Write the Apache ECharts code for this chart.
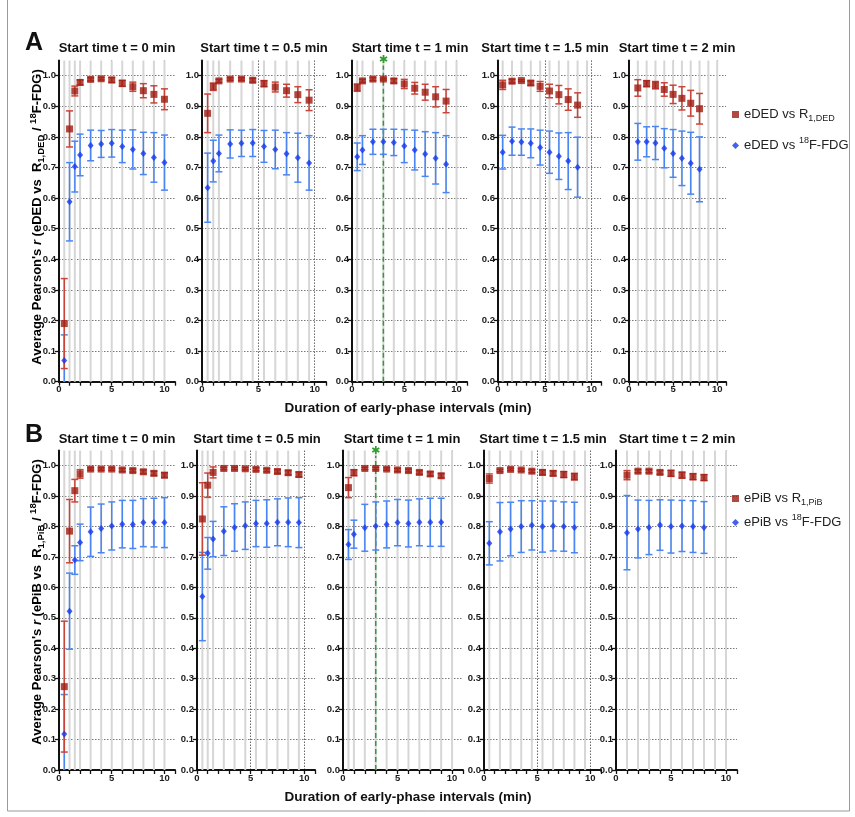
<!DOCTYPE html>
<html>
<head>
<meta charset="utf-8">
<script src="https://cdn.jsdelivr.net/npm/echarts@6/dist/echarts.min.js"></script>
<style>
  html, body { margin: 0; padding: 0; background: #fff; }
  #main { width: 855px; height: 817px; }
</style>
</head>
<body>
<div id="main"></div>
<script>
'use strict';

var startTimes = ['0', '0.5', '1', '1.5', '2'];

// duration of the early-phase interval (min), one list per start time
var durations = [
    [0.5, 1, 1.5, 2, 3, 4, 5, 6, 7, 8, 9, 10],
    [0.5, 1, 1.5, 2.5, 3.5, 4.5, 5.5, 6.5, 7.5, 8.5, 9.5],
    [0.5, 1, 2, 3, 4, 5, 6, 7, 8, 9],
    [0.5, 1.5, 2.5, 3.5, 4.5, 5.5, 6.5, 7.5, 8.5],
    [1, 2, 3, 4, 5, 6, 7, 8]
];

// panel A : eDED vs R1,DED
var dedR1Mean = [
    [0.190, 0.826, 0.950, 0.978, 0.988, 0.990, 0.986, 0.975, 0.964, 0.951, 0.939, 0.923],
    [0.877, 0.964, 0.983, 0.989, 0.989, 0.985, 0.974, 0.963, 0.951, 0.938, 0.920],
    [0.961, 0.983, 0.989, 0.989, 0.983, 0.973, 0.959, 0.946, 0.931, 0.917],
    [0.970, 0.982, 0.984, 0.976, 0.965, 0.950, 0.938, 0.922, 0.904],
    [0.960, 0.974, 0.969, 0.955, 0.939, 0.926, 0.910, 0.892]
];
var dedR1Sd = [
    [0.147, 0.059, 0.016, 0.008, 0.005, 0.004, 0.008, 0.010, 0.015, 0.023, 0.028, 0.034],
    [0.063, 0.012, 0.005, 0.004, 0.004, 0.006, 0.010, 0.016, 0.021, 0.026, 0.034],
    [0.012, 0.005, 0.005, 0.003, 0.007, 0.015, 0.019, 0.026, 0.033, 0.038],
    [0.015, 0.006, 0.003, 0.007, 0.016, 0.022, 0.030, 0.035, 0.040],
    [0.027, 0.010, 0.012, 0.022, 0.030, 0.038, 0.042, 0.050]
];
// panel A : eDED vs 18F-FDG
var dedFdgMean = [
    [0.069, 0.588, 0.703, 0.741, 0.772, 0.777, 0.779, 0.769, 0.759, 0.746, 0.733, 0.716],
    [0.634, 0.721, 0.746, 0.777, 0.779, 0.780, 0.769, 0.759, 0.745, 0.732, 0.715],
    [0.735, 0.757, 0.784, 0.784, 0.782, 0.770, 0.757, 0.744, 0.730, 0.711],
    [0.750, 0.786, 0.783, 0.779, 0.765, 0.750, 0.737, 0.721, 0.701],
    [0.784, 0.784, 0.780, 0.763, 0.746, 0.730, 0.714, 0.694]
];
var dedFdgSd = [
    [0.084, 0.128, 0.083, 0.068, 0.050, 0.044, 0.045, 0.053, 0.064, 0.069, 0.081, 0.090],
    [0.113, 0.068, 0.060, 0.046, 0.043, 0.044, 0.052, 0.063, 0.069, 0.080, 0.089],
    [0.045, 0.047, 0.041, 0.041, 0.043, 0.054, 0.065, 0.073, 0.084, 0.093],
    [0.055, 0.046, 0.043, 0.047, 0.057, 0.069, 0.076, 0.093, 0.098],
    [0.060, 0.049, 0.054, 0.064, 0.078, 0.089, 0.101, 0.106]
];

// panel B : ePiB vs R1,PiB
var pibR1Mean = [
    [0.274, 0.785, 0.918, 0.973, 0.989, 0.989, 0.989, 0.986, 0.984, 0.980, 0.975, 0.969],
    [0.825, 0.936, 0.978, 0.991, 0.991, 0.990, 0.988, 0.985, 0.981, 0.977, 0.971],
    [0.928, 0.977, 0.991, 0.991, 0.989, 0.986, 0.984, 0.978, 0.973, 0.967],
    [0.958, 0.984, 0.988, 0.986, 0.982, 0.978, 0.975, 0.971, 0.964],
    [0.969, 0.982, 0.982, 0.978, 0.975, 0.969, 0.964, 0.961]
];
var pibR1Sd = [
    [0.215, 0.104, 0.037, 0.014, 0.004, 0.004, 0.004, 0.005, 0.005, 0.006, 0.007, 0.008],
    [0.119, 0.040, 0.018, 0.004, 0.004, 0.004, 0.005, 0.005, 0.006, 0.007, 0.008],
    [0.033, 0.010, 0.004, 0.004, 0.004, 0.005, 0.005, 0.006, 0.007, 0.007],
    [0.015, 0.004, 0.004, 0.004, 0.005, 0.008, 0.008, 0.010, 0.011],
    [0.015, 0.005, 0.005, 0.006, 0.010, 0.010, 0.010, 0.010]
];
// panel B : ePiB vs 18F-FDG
var pibFdgMean = [
    [0.118, 0.522, 0.690, 0.748, 0.783, 0.794, 0.802, 0.808, 0.807, 0.813, 0.813, 0.813],
    [0.570, 0.712, 0.759, 0.785, 0.797, 0.803, 0.810, 0.810, 0.814, 0.814, 0.813],
    [0.741, 0.775, 0.796, 0.802, 0.807, 0.813, 0.810, 0.814, 0.814, 0.814],
    [0.745, 0.783, 0.792, 0.800, 0.804, 0.800, 0.802, 0.800, 0.797],
    [0.780, 0.792, 0.797, 0.805, 0.800, 0.802, 0.800, 0.797]
];
var pibFdgSd = [
    [0.130, 0.125, 0.047, 0.060, 0.081, 0.080, 0.079, 0.078, 0.079, 0.079, 0.080, 0.082],
    [0.145, 0.052, 0.058, 0.080, 0.078, 0.078, 0.076, 0.078, 0.077, 0.080, 0.082],
    [0.049, 0.046, 0.077, 0.079, 0.077, 0.076, 0.077, 0.077, 0.079, 0.079],
    [0.071, 0.096, 0.088, 0.085, 0.081, 0.084, 0.082, 0.081, 0.083],
    [0.122, 0.095, 0.089, 0.083, 0.087, 0.084, 0.085, 0.085]
];

var chosenDuration = 3;   // green dashed line, start time t = 1 min

// layout of the ten small plots
var panels = [
    {
        letter: 'A', top: 60.4, height: 321.3,
        lefts: [59, 202, 352, 498, 629], widths: [116, 124, 115, 103, 97],
        titleX: [117, 264, 410, 545, 677], titleY: 48,
        r1Mean: dedR1Mean, r1Sd: dedR1Sd, fdgMean: dedFdgMean, fdgSd: dedFdgSd,
        r1Name: 'eDED vs R1,DED', fdgName: 'eDED vs 18F-FDG',
        legendRich: '{t|eDED vs R}{sub|1,DED}', tracer: 'eDED', sub: '1,DED',
        legendTop: 103, legendGap: 13, yNameY: 217, xNameY: 408
    },
    {
        letter: 'B', top: 450.5, height: 319.5,
        lefts: [59, 197, 343, 484, 616], widths: [116, 118, 120, 117, 121],
        titleX: [117, 257, 402, 543, 677], titleY: 439,
        r1Mean: pibR1Mean, r1Sd: pibR1Sd, fdgMean: pibFdgMean, fdgSd: pibFdgSd,
        r1Name: 'ePiB vs R1,PiB', fdgName: 'ePiB vs 18F-FDG',
        legendRich: '{t|ePiB vs R}{sub|1,PiB}', tracer: 'ePiB', sub: '1,PiB',
        legendTop: 487, legendGap: 6, yNameY: 602, xNameY: 797
    }
];

var RED = '#9e1b12', RED_ERR = '#c9453a';
var BLUE = '#1438ee', BLUE_ERR = '#4a86f2';
var GREEN = '#2e9e2e';
var FONT = 'Liberation Sans';

var textRich = {
    b: { fontSize: 13, fontWeight: 'bold', color: '#1a1a1a', fontFamily: FONT, lineHeight: 18 },
    i: { fontSize: 13, fontWeight: 'bold', fontStyle: 'italic', color: '#1a1a1a', fontFamily: FONT, lineHeight: 18 },
    sub: { fontSize: 9.5, fontWeight: 'bold', color: '#1a1a1a', fontFamily: FONT, verticalAlign: 'bottom' },
    sup: { fontSize: 9.5, fontWeight: 'bold', color: '#1a1a1a', fontFamily: FONT, verticalAlign: 'top' }
};
var legendRich = {
    t: { fontSize: 13, color: '#222', fontFamily: FONT, lineHeight: 18 },
    sub: { fontSize: 9, color: '#222', fontFamily: FONT, verticalAlign: 'bottom' },
    sup: { fontSize: 9, color: '#222', fontFamily: FONT, verticalAlign: 'top' }
};

function errorBars(color) {
    return function (params, api) {
        var x = api.value(0), lo = api.value(1), hi = api.value(2);
        var top = api.coord([x, hi]);
        var bot = api.coord([x, Math.max(lo, 0)]);
        var w = 3.5;
        var st = { stroke: color, lineWidth: 1.5 };
        var kids = [
            { type: 'line', shape: { x1: top[0], y1: top[1], x2: bot[0], y2: bot[1] }, style: st },
            { type: 'line', shape: { x1: top[0] - w, y1: top[1], x2: top[0] + w, y2: top[1] }, style: st }
        ];
        if (lo >= 0) {
            kids.push({ type: 'line', shape: { x1: bot[0] - w, y1: bot[1], x2: bot[0] + w, y2: bot[1] }, style: st });
        }
        return { type: 'group', children: kids };
    };
}

function guideLines(params, api) {
    var a = api.coord([api.value(0), 0]);
    var b = api.coord([api.value(0), 1.05]);
    return {
        type: 'line',
        shape: { x1: a[0], y1: a[1], x2: b[0], y2: b[1] },
        style: { stroke: '#d6d6d6', lineWidth: 2 }
    };
}

function chosenLine(params, api) {
    var a = api.coord([api.value(0), 0]);
    var b = api.coord([api.value(0), 1.033]);
    return {
        type: 'group',
        children: [
            { type: 'line', shape: { x1: a[0], y1: a[1], x2: b[0], y2: b[1] },
              style: { stroke: GREEN, lineWidth: 1.5, lineDash: [5, 3] } },
            { type: 'text', x: b[0], y: b[1] - 5,
              style: { text: '\u2731', fill: GREEN, fontSize: 11, fontFamily: 'DejaVu Sans',
                       align: 'center', verticalAlign: 'middle' } }
        ]
    };
}

var grids = [], xAxes = [], yAxes = [], series = [], legends = [], graphics = [];
var xSplitColors = [];
for (var c = 0; c <= 11; c++) xSplitColors.push(c === 5 || c === 10 ? '#666' : 'rgba(0,0,0,0)');

panels.forEach(function (p, pi) {
    for (var k = 0; k < 5; k++) {
        var gi = grids.length;
        grids.push({ left: p.lefts[k], width: p.widths[k], top: p.top, height: p.height });

        xAxes.push({
            type: 'value', gridIndex: gi, min: 0, max: 11, interval: 1,
            axisLine: { lineStyle: { color: '#111', width: 2 } },
            axisTick: { length: 4, lineStyle: { color: '#111', width: 1.3 } },
            axisLabel: {
                fontSize: 9.5, fontWeight: 'bold', color: '#1a1a1a', fontFamily: FONT, margin: 3,
                formatter: function (v) { return v % 5 === 0 && v <= 10 ? String(v) : ''; }
            },
            splitLine: { show: true, lineStyle: { color: xSplitColors, type: [1.5, 1.5], width: 1 } }
        });
        yAxes.push({
            type: 'value', gridIndex: gi, min: 0, max: 1.05, interval: 0.1,
            axisLine: { show: true, lineStyle: { color: '#111', width: 2 } },
            axisTick: { show: true, length: 4, lineStyle: { color: '#111', width: 1.3 } },
            axisLabel: {
                fontSize: 9.5, fontWeight: 'bold', color: '#1a1a1a', fontFamily: FONT, margin: 3,
                showMaxLabel: false,
                formatter: function (v) { return v.toFixed(1); }
            },
            splitLine: { show: true, showMinLine: false, showMaxLine: false,
                         lineStyle: { color: '#777', type: [1.5, 1.5], width: 1 } }
        });

        // light vertical guides at the measured durations
        var xs = durations[k].slice();
        var step = xs[xs.length - 1] - xs[xs.length - 2];
        while (xs[xs.length - 1] + step <= 10) xs.push(xs[xs.length - 1] + step);
        series.push({
            type: 'custom', xAxisIndex: gi, yAxisIndex: gi, silent: true, z: 1,
            renderItem: guideLines,
            data: xs.map(function (x) { return [x, 0]; })
        });

        var r1Err = [], fdgErr = [], r1Pts = [], fdgPts = [];
        durations[k].forEach(function (x, j) {
            r1Pts.push([x, p.r1Mean[k][j]]);
            fdgPts.push([x, p.fdgMean[k][j]]);
            r1Err.push([x, p.r1Mean[k][j] - p.r1Sd[k][j], p.r1Mean[k][j] + p.r1Sd[k][j]]);
            fdgErr.push([x, p.fdgMean[k][j] - p.fdgSd[k][j], p.fdgMean[k][j] + p.fdgSd[k][j]]);
        });

        if (startTimes[k] === '1') {
            series.push({
                type: 'custom', xAxisIndex: gi, yAxisIndex: gi, silent: true, z: 3,
                renderItem: chosenLine, data: [[chosenDuration, 0]]
            });
        }

        series.push({
            type: 'custom', xAxisIndex: gi, yAxisIndex: gi, z: 4, silent: true,
            renderItem: errorBars(BLUE_ERR), encode: { x: 0, y: [1, 2] }, data: fdgErr
        });
        series.push({
            type: 'custom', xAxisIndex: gi, yAxisIndex: gi, z: 4, silent: true,
            renderItem: errorBars(RED_ERR), encode: { x: 0, y: [1, 2] }, data: r1Err
        });
        series.push({
            name: p.fdgName, type: 'scatter', xAxisIndex: gi, yAxisIndex: gi, z: 5,
            symbol: 'diamond', symbolSize: [6, 7], itemStyle: { color: BLUE }, data: fdgPts
        });
        series.push({
            name: p.r1Name, type: 'scatter', xAxisIndex: gi, yAxisIndex: gi, z: 5,
            symbol: 'rect', symbolSize: 7, itemStyle: { color: RED }, data: r1Pts
        });

        graphics.push({
            type: 'text', x: p.titleX[k], y: p.titleY,
            style: { text: 'Start time t = ' + startTimes[k] + ' min', fontSize: 13, fontWeight: 'bold',
                     fontFamily: FONT, fill: '#111', align: 'center', verticalAlign: 'middle' }
        });
    }

    legends.push({
        orient: 'vertical', left: 727, top: p.legendTop, itemGap: p.legendGap,
        itemWidth: 7, itemHeight: 7, itemStyle: { borderWidth: 0 },
        data: [p.r1Name, p.fdgName],
        formatter: function (name) {
            if (name === p.r1Name) return p.legendRich;
            return '{t|' + p.tracer + ' vs }{sup|18}{t|F-FDG}';
        },
        textStyle: { rich: legendRich }
    });

    graphics.push({
        type: 'text', x: 34, y: p.letter === 'A' ? 43 : 435,
        style: { text: p.letter, fontSize: 25, fontWeight: 'bold', fontFamily: FONT, fill: '#111',
                 align: 'center', verticalAlign: 'middle' }
    });
    graphics.push({
        type: 'text', x: 37, y: p.yNameY, rotation: Math.PI / 2,
        style: {
            text: '{b|Average Pearson\'s }{i|r}{b| (' + p.tracer + ' vs  R}{sub|' + p.sub + '}{b| / }{sup|18}{b|F-FDG)}',
            rich: textRich, align: 'center', verticalAlign: 'middle'
        }
    });
    graphics.push({
        type: 'text', x: 408, y: p.xNameY,
        style: { text: 'Duration of early-phase intervals (min)', fontSize: 13.5, fontWeight: 'bold',
                 fontFamily: FONT, fill: '#111', align: 'center', verticalAlign: 'middle' }
    });
});

graphics.push({
    type: 'rect', silent: true, z: -10,
    shape: { x: 7.5, y: -2, width: 842, height: 813 },
    style: { fill: 'none', stroke: '#999', lineWidth: 1 }
});

var chart = echarts.init(document.getElementById('main'), null, { renderer: 'canvas' });
chart.setOption({
    animation: false,
    backgroundColor: '#fff',
    textStyle: { fontFamily: FONT },
    grid: grids,
    xAxis: xAxes,
    yAxis: yAxes,
    legend: legends,
    graphic: graphics,
    series: series
});
</script>
</body>
</html>
